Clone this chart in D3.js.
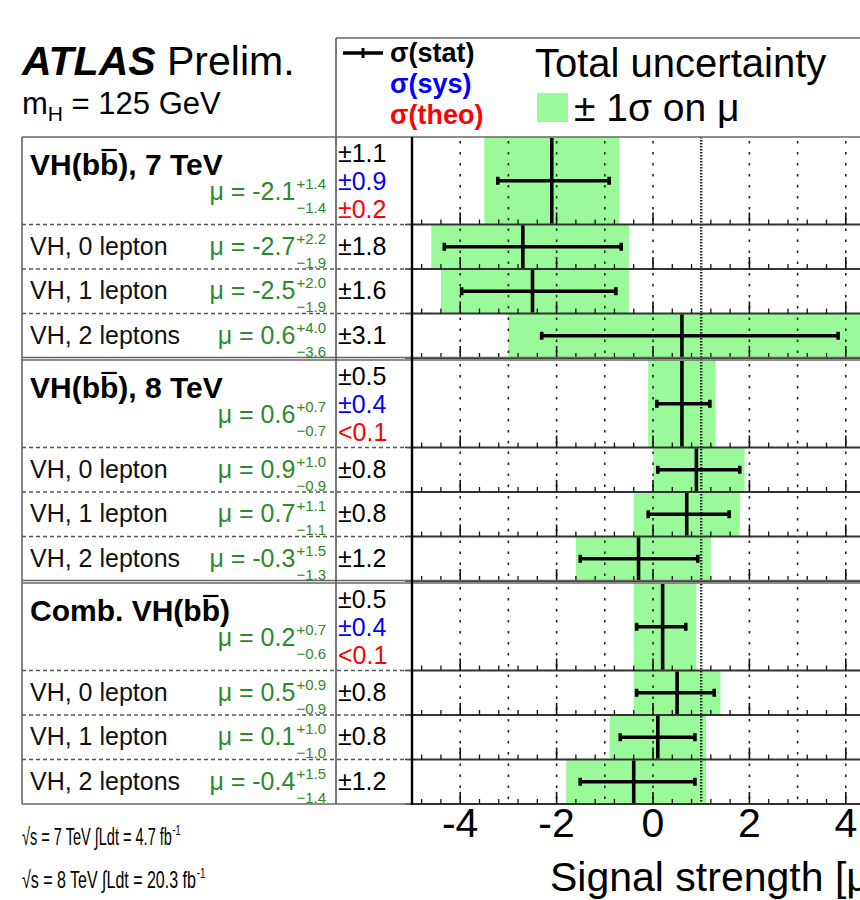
<!DOCTYPE html>
<html>
<head>
<meta charset="utf-8">
<script src="https://cdn.jsdelivr.net/npm/d3@7"></script>
<style>
  body { margin: 0; background: #fff; }
  text { font-family: "Liberation Sans", Arial, Helvetica, sans-serif; }
</style>
</head>
<body>
<svg width="860" height="900"></svg>
<script>
// ---- data ----
const sectionNames = ["VH(bb), 7 TeV", "VH(bb), 8 TeV", "Comb. VH(bb)"];
const channelNames = ["VH, 0 lepton", "VH, 1 lepton", "VH, 2 leptons"];

// 12 rows: per section one combined row followed by the three channels
const mu      = [-2.1, -2.7, -2.5, 0.6,  0.6, 0.9, 0.7, -0.3,  0.2, 0.5, 0.1, -0.4];
const errUp   = [ 1.4,  2.2,  2.0, 4.0,  0.7, 1.0, 1.1,  1.5,  0.7, 0.9, 1.0,  1.5];
const errDown = [ 1.4,  1.9,  1.9, 3.6,  0.7, 0.9, 1.1,  1.3,  0.6, 0.9, 1.0,  1.4];
// stat error bar ends as drawn
const statLo  = [-3.22, -4.33, -3.97, -2.31,  0.08, 0.10, -0.10, -1.51,  -0.34, -0.34, -0.68, -1.51];
const statHi  = [-0.91, -0.66, -0.77,  3.84,  1.18, 1.80,  1.58,  0.93,   0.68,  1.27,  0.87,  0.87];
const statTxt = ["±1.1", "±1.8", "±1.6", "±3.1", "±0.5", "±0.8", "±0.8", "±1.2", "±0.5", "±0.8", "±0.8", "±1.2"];
const sysTxt  = ["±0.9", "±0.4", "±0.4"];
const theoTxt = ["±0.2", "<0.1", "<0.1"];

const xTickLabels = [-4, -2, 0, 2, 4];
const smValue = 1;

// ---- layout ----
const svg = d3.select("svg");
const W = 860;
const tableLeft = 22, colDiv = 336, axisLeft = 412;
const sectionTop = [137, 360, 583];
const headerH = 87.5, subH = 44.5;
const plotBottom = 804;

const green = "#9afa9a", textGreen = "#2b8a2b";

const x = d3.scaleLinear().domain([-5, 5]).range([axisLeft, axisLeft + 482]);

const rows = mu.map((m, i) => {
  const s = Math.floor(i / 4), k = i % 4;
  const y0 = k === 0 ? sectionTop[s] : sectionTop[s] + headerH + (k - 1) * subH;
  const y1 = k === 0 ? y0 + headerH : y0 + subH;
  return {i, s, k, header: k === 0, y0, y1, yc: (y0 + y1) / 2};
});

svg.append("rect").attr("width", 860).attr("height", 900).attr("fill", "#fff");

// green total-uncertainty boxes
svg.append("g").selectAll("rect").data(rows).join("rect")
  .attr("x", d => x(mu[d.i] - errDown[d.i]))
  .attr("width", d => x(mu[d.i] + errUp[d.i]) - x(mu[d.i] - errDown[d.i]))
  .attr("y", d => d.y0)
  .attr("height", d => d.y1 - d.y0)
  .attr("fill", green);

// dotted grid at each integer
const gridVals = d3.range(-4, 5).filter(v => v !== smValue);
const grid = svg.append("g");
rows.forEach(r => {
  grid.selectAll(null).data(gridVals).join("line")
    .attr("x1", v => x(v)).attr("x2", v => x(v))
    .attr("y1", r.y0 + 4).attr("y2", r.y1 - 2)
    .attr("stroke", "#222").attr("stroke-width", 1.6)
    .attr("stroke-dasharray", "2.5,8.5");
});

// SM line
svg.append("line")
  .attr("x1", x(smValue)).attr("x2", x(smValue))
  .attr("y1", sectionTop[0]).attr("y2", plotBottom)
  .attr("stroke", "#222").attr("stroke-width", 2.4)
  .attr("stroke-dasharray", "1.5,1.5");

// row axes: bottom line + ticks
const majorTicks = xTickLabels;
const minorTicks = d3.range(-24, 25).map(k => k * 0.2).filter(v => Math.abs(Math.round(v * 10)) % 4 === 0 && Math.round(v * 10) % 20 !== 0 && Math.abs(v) < 5);
const axes = svg.append("g");
rows.forEach(r => {
  axes.append("line").attr("x1", axisLeft).attr("x2", W)
    .attr("y1", r.y1).attr("y2", r.y1)
    .attr("stroke", "#333").attr("stroke-width", 2);
  axes.selectAll(null).data(majorTicks).join("line")
    .attr("x1", v => x(v)).attr("x2", v => x(v))
    .attr("y1", r.y1).attr("y2", r.y1 - 12)
    .attr("stroke", "#111").attr("stroke-width", 1.6);
  axes.selectAll(null).data(minorTicks).join("line")
    .attr("x1", v => x(v)).attr("x2", v => x(v))
    .attr("y1", r.y1).attr("y2", r.y1 - 5)
    .attr("stroke", "#111").attr("stroke-width", 1.3);
  // little y tick to the left
  axes.append("line").attr("x1", axisLeft - 7).attr("x2", axisLeft)
    .attr("y1", r.y1).attr("y2", r.y1).attr("stroke", "#333").attr("stroke-width", 1.5);
});

// error bars
const eb = svg.append("g").attr("stroke", "#000").attr("stroke-width", 3.6);
eb.selectAll(".ctr").data(rows).join("line").attr("class", "ctr")
  .attr("x1", d => x(mu[d.i])).attr("x2", d => x(mu[d.i]))
  .attr("y1", d => d.y0 + 1).attr("y2", d => d.y1 - 1);
eb.selectAll(".bar").data(rows).join("line").attr("class", "bar")
  .attr("x1", d => x(statLo[d.i])).attr("x2", d => x(statHi[d.i]))
  .attr("y1", d => d.yc).attr("y2", d => d.yc);
eb.selectAll(".capL").data(rows).join("line").attr("class", "capL")
  .attr("x1", d => x(statLo[d.i])).attr("x2", d => x(statLo[d.i]))
  .attr("y1", d => d.yc - 4).attr("y2", d => d.yc + 4);
eb.selectAll(".capR").data(rows).join("line").attr("class", "capR")
  .attr("x1", d => x(statHi[d.i])).attr("x2", d => x(statHi[d.i]))
  .attr("y1", d => d.yc - 4).attr("y2", d => d.yc + 4);

// table lines
const frame = svg.append("g").attr("fill", "none");
rows.filter(r => !r.header).forEach(r => {
  frame.append("line").attr("x1", tableLeft).attr("x2", axisLeft)
    .attr("y1", r.y0).attr("y2", r.y0)
    .attr("stroke", "#555").attr("stroke-width", 1.3).attr("stroke-dasharray", "4,3");
});
sectionTop.forEach((t, s) => {
  frame.append("line").attr("x1", tableLeft).attr("x2", W)
    .attr("y1", t).attr("y2", t).attr("stroke", "#666").attr("stroke-width", 1.6);
  if (s > 0) frame.append("line").attr("x1", tableLeft).attr("x2", W)
    .attr("y1", t - 2.5).attr("y2", t - 2.5).attr("stroke", "#666").attr("stroke-width", 1.6);
});
frame.append("line").attr("x1", tableLeft).attr("x2", axisLeft)
  .attr("y1", plotBottom).attr("y2", plotBottom).attr("stroke", "#666").attr("stroke-width", 1.6);
frame.append("line").attr("x1", tableLeft).attr("x2", tableLeft)
  .attr("y1", sectionTop[0]).attr("y2", plotBottom).attr("stroke", "#666").attr("stroke-width", 1.6);
frame.append("line").attr("x1", colDiv).attr("x2", colDiv)
  .attr("y1", 38).attr("y2", plotBottom).attr("stroke", "#555").attr("stroke-width", 1.6);
frame.append("line").attr("x1", colDiv).attr("x2", W)
  .attr("y1", 38).attr("y2", 38).attr("stroke", "#666").attr("stroke-width", 1.6);
frame.append("line").attr("x1", axisLeft).attr("x2", axisLeft)
  .attr("y1", sectionTop[0]).attr("y2", plotBottom + 1).attr("stroke", "#000").attr("stroke-width", 2.4);

// row labels
const lab = svg.append("g");
rows.forEach(r => {
  if (r.header) {
    const name = sectionNames[r.s];
    const t = lab.append("text").attr("x", 30).attr("y", r.y0 + 38)
      .attr("font-size", 30).attr("font-weight", "bold").attr("fill", "#000").text(name);
    const ci = name.indexOf("bb") + 1;
    const ext = t.node().getExtentOfChar(ci);
    lab.append("line").attr("x1", ext.x + 1.5).attr("x2", ext.x + ext.width - 1.5)
      .attr("y1", r.y0 + 13).attr("y2", r.y0 + 13).attr("stroke", "#000").attr("stroke-width", 2.2);
  } else {
    lab.append("text").attr("x", 30).attr("y", r.yc + 8)
      .attr("font-size", 25).attr("fill", "#111").text(channelNames[r.k - 1]);
  }
  // mu value with asymmetric errors
  const base = r.header ? r.y0 + 63 : r.yc + 8;
  const sup = lab.append("text").attr("x", 326).attr("y", base - 11).attr("text-anchor", "end")
    .attr("font-size", 15).attr("fill", textGreen).text("+" + errUp[r.i].toFixed(1));
  const sub = lab.append("text").attr("x", 326).attr("y", base + 13).attr("text-anchor", "end")
    .attr("font-size", 15).attr("fill", textGreen).text("\u2212" + errDown[r.i].toFixed(1));
  const w = Math.max(sup.node().getComputedTextLength(), sub.node().getComputedTextLength());
  lab.append("text").attr("x", 326 - w - 1).attr("y", base).attr("text-anchor", "end")
    .attr("font-size", 25).attr("fill", textGreen).text("\u03bc = " + mu[r.i].toFixed(1));
  // uncertainty column
  if (r.header) {
    [[statTxt[r.i], "#000"], [sysTxt[r.s], "#0000ff"], [theoTxt[r.s], "#ff0000"]].forEach((p, j) => {
      lab.append("text").attr("x", 338).attr("y", r.y0 + 25 + j * 28)
        .attr("font-size", 25).attr("fill", p[1]).text(p[0]);
    });
  } else {
    lab.append("text").attr("x", 338).attr("y", r.yc + 8)
      .attr("font-size", 25).attr("fill", "#000").text(statTxt[r.i]);
  }
});

// x axis labels and title
svg.append("g").selectAll("text").data(xTickLabels).join("text")
  .attr("x", v => x(v)).attr("y", 837).attr("text-anchor", "middle")
  .attr("font-size", 41).text(v => String(v));
svg.append("text").attr("x", 550).attr("y", 891).attr("font-size", 41).text("Signal strength [\u03bc]");

// header: ATLAS Prelim.
const h = svg.append("text").attr("x", 22).attr("y", 75).attr("font-size", 41);
h.append("tspan").attr("font-weight", "bold").attr("font-style", "italic").text("ATLAS");
h.append("tspan").text(" Prelim.");
const mh = svg.append("text").attr("x", 22).attr("y", 114).attr("font-size", 31);
mh.append("tspan").text("m");
mh.append("tspan").attr("font-size", 21).attr("dy", 7).text("H");
mh.append("tspan").attr("dy", -7).text(" = 125 GeV");

// legend
svg.append("line").attr("x1", 343).attr("x2", 383).attr("y1", 53).attr("y2", 53)
  .attr("stroke", "#000").attr("stroke-width", 3.6);
svg.append("line").attr("x1", 363).attr("x2", 363).attr("y1", 48).attr("y2", 58)
  .attr("stroke", "#000").attr("stroke-width", 3);
[["\u03c3(stat)", "#000"], ["\u03c3(sys)", "#0000ff"], ["\u03c3(theo)", "#ff0000"]].forEach((p, j) => {
  svg.append("text").attr("x", 390).attr("y", 62 + j * 31).attr("font-size", 27)
    .attr("font-weight", "bold").attr("fill", p[1]).text(p[0]);
});
svg.append("text").attr("x", 535).attr("y", 77).attr("font-size", 40).text("Total uncertainty");
svg.append("rect").attr("x", 537).attr("y", 93).attr("width", 31).attr("height", 29).attr("fill", green);
svg.append("text").attr("x", 574).attr("y", 121).attr("font-size", 39).text("\u00b1 1\u03c3 on \u03bc");

// luminosity (condensed font in the original)
const lumi = [["\u221as = 7 TeV \u222bLdt = 4.7 fb", 150, 845], ["\u221as = 8 TeV \u222bLdt = 20.3 fb", 174, 888]];
lumi.forEach(l => {
  const g = svg.append("g");
  const t = g.append("text").attr("x", 0).attr("y", 0).attr("font-size", 24).text(l[0]);
  const tw = t.node().getComputedTextLength();
  g.append("text").attr("x", tw + 1).attr("y", -10).attr("font-size", 15).text("-1");
  g.attr("transform", `translate(22,${l[2]}) scale(${l[1] / tw},1)`);
});
</script>
</body>
</html>
